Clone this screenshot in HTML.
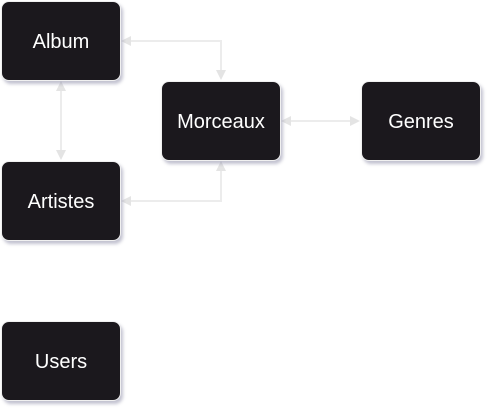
<!DOCTYPE html>
<html><head><style>
body{margin:0;width:492px;height:412px;background:#fff;position:relative;overflow:hidden;font-family:"Liberation Sans",sans-serif}
.n{position:absolute;width:118px;height:78px;background:#1b181d;border:1px solid #f0f0f0;border-radius:8px;color:#fff;font-size:20px;display:flex;align-items:center;justify-content:center;box-shadow:2px 3px 3px rgba(120,120,150,0.45);padding-top:2px;box-sizing:content-box;height:76px}
svg{position:absolute;left:0;top:0}
</style></head><body>
<svg width="492" height="412">
<defs><marker id="a" markerWidth="5" markerHeight="5" refX="4" refY="2.5" orient="auto-start-reverse"><path d="M0,0 L5,2.5 L0,5 z" fill="#e4e4e4"/></marker></defs>
<g stroke="#ececec" stroke-width="2" fill="none" marker-start="url(#a)" marker-end="url(#a)">
<path d="M123,41 H221 V78"/>
<path d="M61,83 V158"/>
<path d="M123,201 H221 V163"/>
<path d="M283,121 H358"/>
</g></svg>
<div class="n" style="left:1px;top:1px">Album</div>
<div class="n" style="left:161px;top:81px">Morceaux</div>
<div class="n" style="left:361px;top:81px">Genres</div>
<div class="n" style="left:1px;top:161px">Artistes</div>
<div class="n" style="left:1px;top:321px">Users</div>
</body></html>
